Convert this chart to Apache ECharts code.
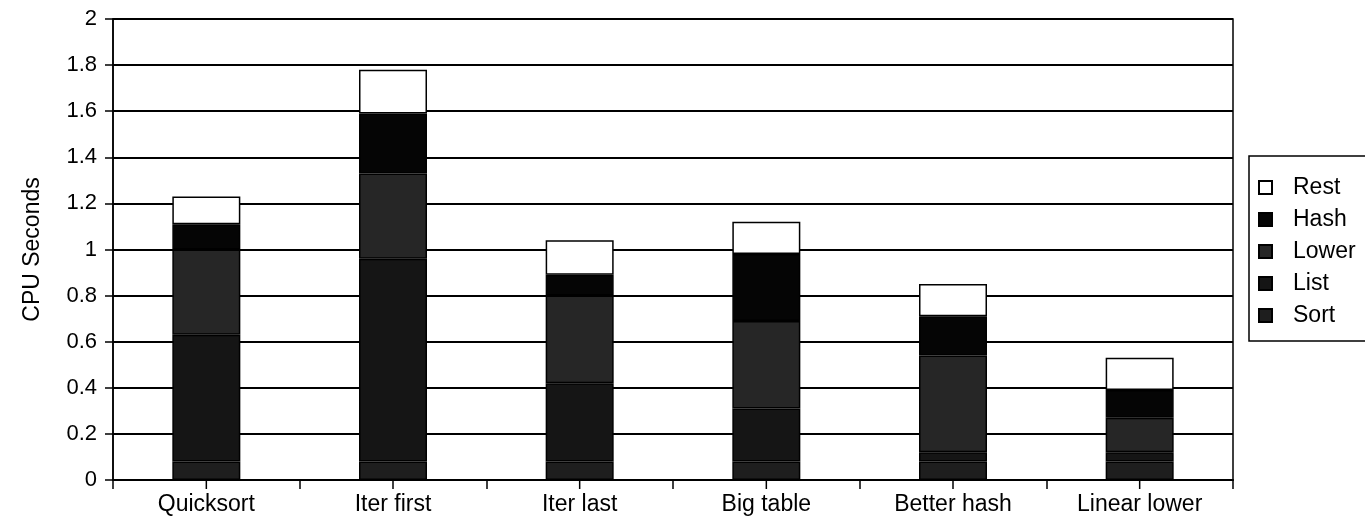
<!DOCTYPE html>
<html>
<head>
<meta charset="utf-8">
<title>CPU Seconds by version</title>
<script src="https://cdn.jsdelivr.net/npm/echarts@6/dist/echarts.min.js"></script>
<style>
  html, body { margin: 0; padding: 0; background: #fff; }
  #chart { width: 1365px; height: 529px; }
</style>
</head>
<body>
<div id="chart"></div>
<script>
// Program versions along the x axis
const categories = ['Quicksort', 'Iter first', 'Iter last', 'Big table', 'Better hash', 'Linear lower'];

// CPU seconds spent in each part of the program, per version
const sortTime  = [0.08, 0.08, 0.08, 0.08, 0.08, 0.08];
const listTime  = [0.55, 0.88, 0.34, 0.23, 0.04, 0.04];
const lowerTime = [0.37, 0.37, 0.38, 0.38, 0.42, 0.15];
const hashTime  = [0.11, 0.26, 0.09, 0.29, 0.17, 0.12];
const restTime  = [0.12, 0.19, 0.15, 0.14, 0.14, 0.14];

// Legend order, top to bottom
const legendOrder = ['Rest', 'Hash', 'Lower', 'List', 'Sort'];

const FONT = '"Liberation Sans", Arial, Helvetica, sans-serif';
const INK = '#000';
const TICK_LEN = 9;

function stackSeries(name, data, color) {
  return {
    name: name,
    type: 'bar',
    stack: 'total',
    barWidth: 68,
    data: data,
    itemStyle: { color: color, borderColor: INK, borderWidth: 1.5 },
    emphasis: { disabled: true }
  };
}

// Extra axis ticks under the centre of every category
const centreTicks = {
  name: 'centre-ticks',
  type: 'custom',
  silent: true,
  clip: false,
  z: 10,
  data: categories.map((c, i) => [i, 0]),
  renderItem: function (params, api) {
    const p = api.coord([api.value(0), 0]);
    return {
      type: 'rect',
      shape: { x: p[0] - 0.75, y: p[1], width: 1.5, height: TICK_LEN },
      style: { fill: INK }
    };
  }
};

const chart = echarts.init(document.getElementById('chart'), null, { renderer: 'canvas' });

chart.setOption({
  animation: false,
  backgroundColor: '#fff',
  textStyle: { fontFamily: FONT, color: INK },
  grid: {
    left: 113, right: 132, top: 19, bottom: 49,
    show: true, borderColor: INK, borderWidth: 1.5, backgroundColor: 'transparent'
  },
  legend: {
    data: legendOrder,
    orient: 'vertical',
    left: 1249,
    top: 156,
    padding: [20, 60, 14, 9],
    icon: 'rect',
    itemWidth: 13,
    itemHeight: 13,
    itemGap: 9,
    borderColor: INK,
    borderWidth: 1.5,
    backgroundColor: '#fff',
    textStyle: { fontFamily: FONT, fontSize: 23, color: INK, padding: [0, 0, 0, 16] },
    selectedMode: false
  },
  xAxis: {
    type: 'category',
    data: categories,
    axisLine: { lineStyle: { color: INK, width: 2 } },
    axisTick: { show: true, alignWithLabel: false, length: TICK_LEN, lineStyle: { color: INK, width: 1.5 } },
    axisLabel: { fontFamily: FONT, fontSize: 23, color: INK, margin: 13 },
    splitLine: { show: false }
  },
  yAxis: {
    type: 'value',
    min: 0,
    max: 2,
    interval: 0.2,
    name: 'CPU Seconds',
    nameLocation: 'middle',
    nameGap: 69,
    nameTextStyle: { fontFamily: FONT, fontSize: 23, color: INK },
    axisLine: { show: true, lineStyle: { color: INK, width: 1.5 } },
    axisTick: { show: true, length: 8, lineStyle: { color: INK, width: 1.5 } },
    axisLabel: {
      fontFamily: FONT, fontSize: 22, color: INK, margin: 16,
      formatter: v => String(+v.toFixed(1))
    },
    splitLine: { show: true, lineStyle: { color: INK, width: 2 } }
  },
  series: [
    stackSeries('Sort', sortTime, '#1e1e1e'),
    stackSeries('List', listTime, '#151515'),
    stackSeries('Lower', lowerTime, '#262626'),
    stackSeries('Hash', hashTime, '#050505'),
    stackSeries('Rest', restTime, '#ffffff'),
    centreTicks
  ]
});
</script>
</body>
</html>
